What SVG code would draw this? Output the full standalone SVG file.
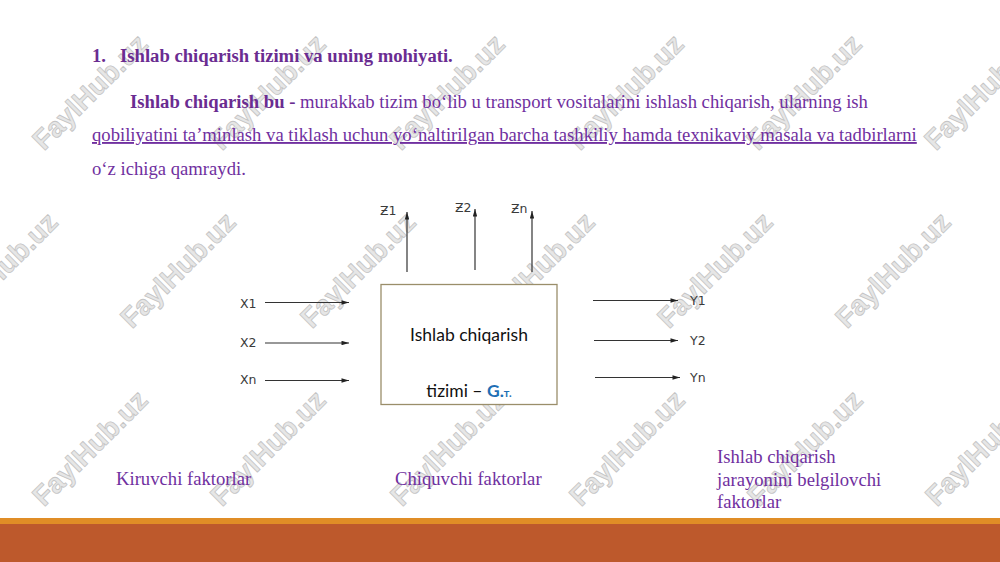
<svg xmlns="http://www.w3.org/2000/svg" width="1000" height="562" viewBox="0 0 1000 562">
<style>
  .wm { font-family: "Liberation Sans", Arial, sans-serif; font-weight: bold; font-size: 28px; fill: #e6e6e6; stroke: #c4c4c4; stroke-width: 0.8; text-anchor: middle; dominant-baseline: central; }
  .ser { font-family: "Liberation Serif", "Times New Roman", serif; font-size: 18.67px; fill: #7030a0; }
  .bold { font-weight: bold; fill: #6a2c91; }
  .lab { font-family: "DejaVu Sans", Verdana, sans-serif; font-size: 12.5px; fill: #3a3a3a; }
  .box { font-family: Lato, "Open Sans", sans-serif; font-size: 17.5px; fill: #111; text-anchor: middle; }
  .ln { stroke: #333; stroke-width: 1.2; fill: none; marker-end: url(#ah); }
</style>
<defs>
  <marker id="ah" viewBox="0 0 10 6" refX="10" refY="3" markerWidth="8" markerHeight="4.5" markerUnits="userSpaceOnUse" orient="auto">
    <path d="M0,0 L10,3 L0,6 Z" fill="#222"/>
  </marker>
</defs>
<rect width="1000" height="562" fill="#ffffff"/>

<g id="watermarks">
  <text class="wm" transform="translate(90,92) rotate(-45)">FaylHub.uz</text>
  <text class="wm" transform="translate(268,92) rotate(-45)">FaylHub.uz</text>
  <text class="wm" transform="translate(447,92) rotate(-45)">FaylHub.uz</text>
  <text class="wm" transform="translate(626,92) rotate(-45)">FaylHub.uz</text>
  <text class="wm" transform="translate(804,92) rotate(-45)">FaylHub.uz</text>
  <text class="wm" transform="translate(982,92) rotate(-45)">FaylHub.uz</text>
  <text class="wm" transform="translate(0,270) rotate(-45)">FaylHub.uz</text>
  <text class="wm" transform="translate(178,270) rotate(-45)">FaylHub.uz</text>
  <text class="wm" transform="translate(358,270) rotate(-45)">FaylHub.uz</text>
  <text class="wm" transform="translate(537,270) rotate(-45)">FaylHub.uz</text>
  <text class="wm" transform="translate(715,270) rotate(-45)">FaylHub.uz</text>
  <text class="wm" transform="translate(893,270) rotate(-45)">FaylHub.uz</text>
  <text class="wm" transform="translate(90,448) rotate(-45)">FaylHub.uz</text>
  <text class="wm" transform="translate(268,448) rotate(-45)">FaylHub.uz</text>
  <text class="wm" transform="translate(448,448) rotate(-45)">FaylHub.uz</text>
  <text class="wm" transform="translate(627,448) rotate(-45)">FaylHub.uz</text>
  <text class="wm" transform="translate(805,448) rotate(-45)">FaylHub.uz</text>
  <text class="wm" transform="translate(983,448) rotate(-45)">FaylHub.uz</text>
</g>

<g id="heading">
  <text class="ser bold" x="92" y="62">1.</text>
  <text class="ser bold" x="120" y="62">Ishlab chiqarish tizimi va uning mohiyati.</text>
</g>

<g id="paragraph">
  <text class="ser" x="130" y="108"><tspan class="bold">Ishlab chiqarish bu - </tspan>murakkab tizim bo‘lib u transport vositalarini ishlash chiqarish, ularning ish</text>
  <text class="ser" x="92" y="141" text-decoration="underline">qobiliyatini ta’minlash va tiklash uchun yo‘naltirilgan barcha tashkiliy hamda texnikaviy masala va tadbirlarni</text>
  <text class="ser" x="92" y="175">o‘z ichiga qamraydi.</text>
</g>

<g id="system-box">
  <rect x="381" y="284.5" width="176" height="120" fill="#ffffff" stroke="#9a8e6a" stroke-width="1.3"/>
  <text class="box" x="469" y="341">Ishlab chiqarish</text>
  <text class="box" x="469" y="397">tizimi – <tspan fill="#1f6fb5" font-weight="bold">G.<tspan font-size="11">т.</tspan></tspan></text>
</g>

<g id="connectors">
  <line class="ln" x1="407" y1="272" x2="407" y2="212"/>
  <line class="ln" x1="475" y1="270" x2="475" y2="209"/>
  <line class="ln" x1="532" y1="272" x2="532" y2="211"/>
  <line class="ln" x1="265" y1="302.5" x2="349" y2="302.5"/>
  <line class="ln" x1="265" y1="343" x2="349" y2="343"/>
  <line class="ln" x1="265" y1="380.5" x2="349" y2="380.5"/>
  <line class="ln" x1="593" y1="300.5" x2="678" y2="300.5"/>
  <line class="ln" x1="594" y1="340.5" x2="678" y2="340.5"/>
  <line class="ln" x1="595" y1="377.5" x2="680" y2="377.5"/>
</g>

<g id="io-labels">
  <text class="lab" x="380" y="215">Ƶ1</text>
  <text class="lab" x="455" y="212">Ƶ2</text>
  <text class="lab" x="511" y="213">Ƶn</text>
  <text class="lab" x="240" y="308">X1</text>
  <text class="lab" x="240" y="347">X2</text>
  <text class="lab" x="240" y="384">Xn</text>
  <text class="lab" x="690" y="305">Y1</text>
  <text class="lab" x="690" y="345">Y2</text>
  <text class="lab" x="690" y="382">Yn</text>
</g>

<g id="captions">
  <text class="ser" x="116" y="485">Kiruvchi faktorlar</text>
  <text class="ser" x="395" y="485">Chiquvchi faktorlar</text>
  <text class="ser" x="717" y="463">Ishlab chiqarish</text>
  <text class="ser" x="717" y="486">jarayonini belgilovchi</text>
  <text class="ser" x="717" y="508">faktorlar</text>
</g>

<g id="footer">
  <rect x="0" y="518" width="1000" height="6" fill="#e08d26"/>
  <rect x="0" y="524" width="1000" height="38" fill="#bd592c"/>
</g>
</svg>
